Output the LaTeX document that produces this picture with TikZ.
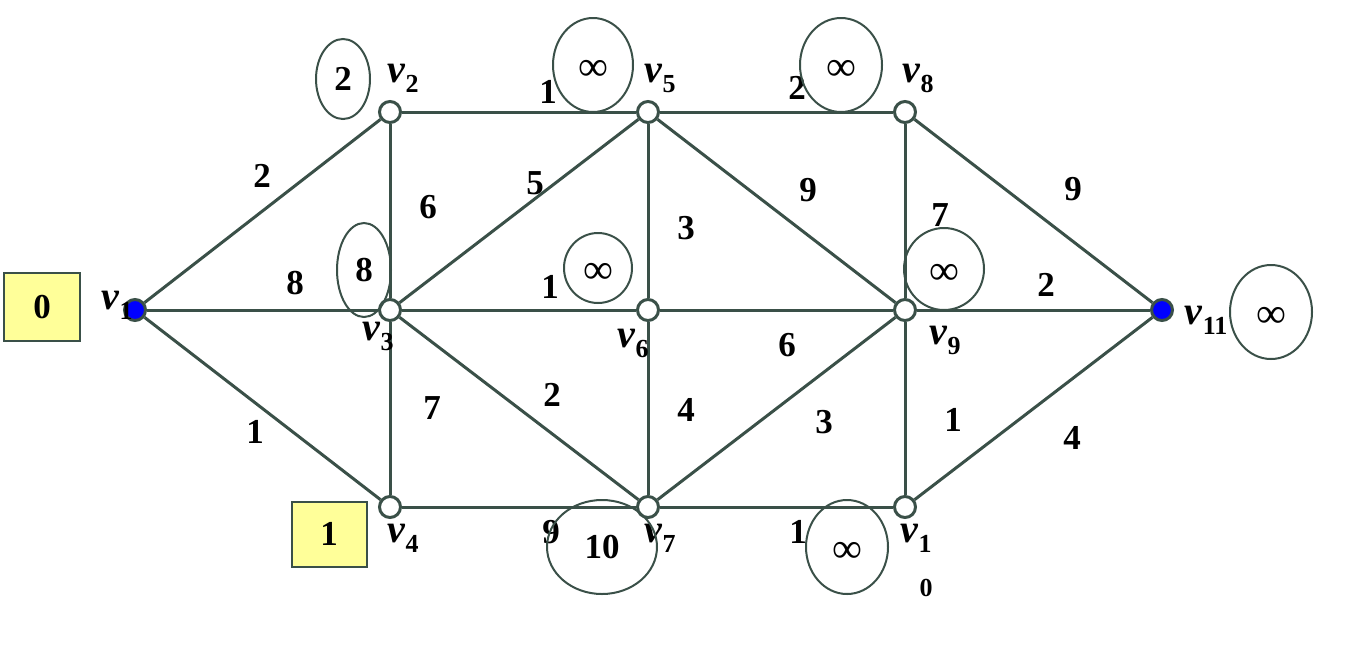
\documentclass[tikz,border=0pt]{standalone}
\usepackage{fontspec}
\setmainfont{Liberation Serif}
\usepackage{tikz}
\usetikzlibrary{shapes.geometric}

\definecolor{edgegray}{RGB}{58,80,72}
\definecolor{boxyellow}{RGB}{255,255,153}
\definecolor{nodeblue}{RGB}{0,0,255}

\newcommand{\vname}[1]{\textbf{\textit{v}}\raisebox{-10pt}{\fontsize{26}{26}\selectfont\bfseries #1}}
\newcommand{\unreached}{\raisebox{0pt}[\dimexpr\height+10pt\relax]{∞}}

\begin{document}
\begin{tikzpicture}[x=1pt,y=-1pt]
\tikzstyle{vertex}=[circle, draw=edgegray, line width=3pt, fill=white, minimum size=21pt, inner sep=0pt]
\tikzstyle{source}=[vertex, fill=nodeblue]
\tikzstyle{road}=[draw=edgegray, line width=3pt]
\tikzstyle{weight}=[font=\fontsize{35}{35}\selectfont\bfseries, inner sep=0pt]
\tikzstyle{vlabel}=[font=\fontsize{40}{40}\selectfont, inner sep=0pt]
\tikzstyle{distmark}=[ellipse, draw=edgegray, line width=2pt, inner sep=0pt]
\tikzstyle{markval}=[distmark, font=\fontsize{35}{35}\selectfont\bfseries]
\tikzstyle{markinf}=[distmark, font=\fontsize{42}{42}\selectfont]
\tikzstyle{result}=[rectangle, draw=edgegray, line width=2pt, fill=boxyellow, font=\fontsize{35}{35}\selectfont\bfseries, inner sep=0pt]

\useasboundingbox (0,0) rectangle (1362,657);

% vertices
\node[source] (v1) at (135,310) {};
\node[vertex] (v2) at (390,112) {};
\node[vertex] (v3) at (390,310) {};
\node[vertex] (v4) at (390,507) {};
\node[vertex] (v5) at (648,112) {};
\node[vertex] (v6) at (648,310) {};
\node[vertex] (v7) at (648,507) {};
\node[vertex] (v8) at (905,112) {};
\node[vertex] (v9) at (905,310) {};
\node[vertex] (v10) at (905,507) {};
\node[source] (v11) at (1162,310) {};

% edges
\path[road] (v1) edge (v2)
            edge (v3)
            edge (v4)
      (v2) edge (v5)
            edge (v3)
      (v3) edge (v5)
            edge (v6)
            edge (v4)
            edge (v7)
      (v4) edge (v7)
      (v5) edge (v8)
            edge (v6)
            edge (v9)
      (v6) edge (v9)
            edge (v7)
      (v7) edge (v9)
            edge (v10)
      (v8) edge (v9)
            edge (v11)
      (v9) edge (v11)
            edge (v10)
      (v10) edge (v11);

% weights
\node[weight] (w12) at (262,176) {2};
\node[weight] (w13) at (295,283) {8};
\node[weight] (w14) at (255,432) {1};
\node[weight] (w25) at (548,92) {1};
\node[weight] (w23) at (428,207) {6};
\node[weight] (w35) at (535,183) {5};
\node[weight] (w36) at (550,287) {1};
\node[weight] (w34) at (432,408) {7};
\node[weight] (w37) at (552,395) {2};
\node[weight] (w47) at (551,532) {9};
\node[weight] (w58) at (797,88) {2};
\node[weight] (w56) at (686,228) {3};
\node[weight] (w59) at (808,190) {9};
\node[weight] (w69) at (787,345) {6};
\node[weight] (w67) at (686,410) {4};
\node[weight] (w79) at (824,422) {3};
\node[weight] (w710) at (798,532) {1};
\node[weight] (w89) at (940,215) {7};
\node[weight] (w811) at (1073,189) {9};
\node[weight] (w911) at (1046,285) {2};
\node[weight] (w910) at (953,420) {1};
\node[weight] (w1011) at (1072,438) {4};

% vertex names
\node[vlabel] (n1) at (117,305) {\vname{1}};
\node[vlabel] (n2) at (403,78) {\vname{2}};
\node[vlabel] (n3) at (378,336) {\vname{3}};
\node[vlabel] (n4) at (403,538) {\vname{4}};
\node[vlabel] (n5) at (660,78) {\vname{5}};
\node[vlabel] (n6) at (633,343) {\vname{6}};
\node[vlabel] (n7) at (660,538) {\vname{7}};
\node[vlabel] (n8) at (918,78) {\vname{8}};
\node[vlabel] (n9) at (945,340) {\vname{9}};
\node[vlabel] (n10) at (916,538) {\vname{1}};
\node[font=\fontsize{26}{26}\selectfont\bfseries, inner sep=0pt] (n10b) at (926,588) {0};
\node[vlabel] (n11) at (1206,320) {\vname{11}};

% labels of the vertices
\node[markval, minimum width=54pt, minimum height=80pt] (d2) at (343,79) {2};
\node[markinf, minimum width=80pt, minimum height=94pt] (d5) at (593,65) {\unreached};
\node[markinf, minimum width=82pt, minimum height=94pt] (d8) at (841,65) {\unreached};
\node[markval, minimum width=54pt, minimum height=94pt] (d3) at (364,270) {8};
\node[markinf, minimum width=68pt, minimum height=70pt] (d6) at (598,268) {\unreached};
\node[markinf, minimum width=80pt, minimum height=82pt] (d9) at (944,269) {\unreached};
\node[markinf, minimum width=82pt, minimum height=94pt] (d11) at (1271,312) {\unreached};
\node[markval, minimum width=110pt, minimum height=94pt] (d7) at (602,547) {10};
\node[markinf, minimum width=82pt, minimum height=94pt] (d10) at (847,547) {\unreached};

\node[result, minimum width=76pt, minimum height=68pt] (r1) at (42,307) {0};
\node[result, minimum width=75pt, minimum height=65pt] (r4) at (329,534) {1};
\end{tikzpicture}
\end{document}
